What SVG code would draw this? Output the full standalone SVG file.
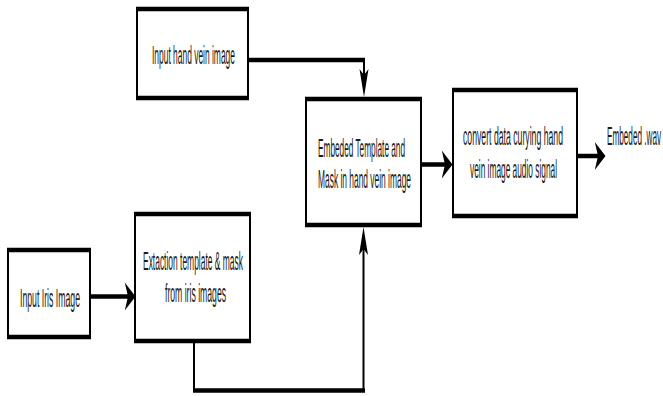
<svg xmlns="http://www.w3.org/2000/svg" width="663" height="396" viewBox="0 0 663 396">
<style>
.box{fill:#fff;stroke:#000;stroke-width:2}
.edge{stroke:#000;stroke-width:4.5;stroke-linecap:butt}
.lbl{font-family:"Liberation Sans","DejaVu Sans",sans-serif;font-size:25px;fill:#1a1a1a}
.thin{fill:none;stroke:#000;stroke-width:2}
.thick{fill:none;stroke:#000;stroke-width:4.5}
</style>
<defs>
<marker id="arrH" markerUnits="userSpaceOnUse" markerWidth="12" markerHeight="30" viewBox="0 -14 11 28" refX="3" refY="0" orient="auto" overflow="visible">
<path d="M0,-13 L10,0 L0,13 L3,0 Z" fill="#000"/>
</marker>
<marker id="arrV" markerUnits="userSpaceOnUse" markerWidth="30" markerHeight="10" viewBox="0 -5 29 10" refX="6" refY="0" orient="auto" overflow="visible">
<path d="M0,-4.5 L28,0 L0,4.5 L6,0 Z" fill="#000"/>
</marker>
</defs>
<g id="connectors">
<path class="thick" d="M249,60 H365"/>
<path class="thin" d="M364,60 V75" marker-end="url(#arrV)"/>
<path class="thick" d="M90,296.5 H128" marker-end="url(#arrH)"/>
<path class="thick" d="M421,164.5 H445" marker-end="url(#arrH)"/>
<path class="thick" d="M577,156 H598" marker-end="url(#arrH)"/>
<path class="thin" d="M194,341 V390"/>
<path class="thick" d="M193,390.5 H365"/>
<path class="thin" d="M363.5,391 V249" marker-end="url(#arrV)"/>
</g>
<g id="hand-vein">
<rect class="box" x="137" y="9" width="111" height="89"/>
<line class="edge" x1="136" y1="9" x2="249" y2="9"/>
<line class="edge" x1="136" y1="98" x2="249" y2="98"/>
<text class="lbl" transform="translate(152,64) scale(0.34,1)" textLength="244" lengthAdjust="spacingAndGlyphs">Input hand vein image</text>
</g>
<g id="embed">
<rect class="box" x="306" y="99" width="115" height="126"/>
<line class="edge" x1="305" y1="99" x2="422" y2="99"/>
<line class="edge" x1="305" y1="225" x2="422" y2="225"/>
<text class="lbl" transform="translate(318,157) scale(0.34,1)" textLength="256" lengthAdjust="spacingAndGlyphs">Embeded Template and</text>
<text class="lbl" transform="translate(318,188) scale(0.34,1)" textLength="273.5" lengthAdjust="spacingAndGlyphs">Mask in hand vein image</text>
</g>
<g id="convert">
<rect class="box" x="453" y="90" width="124" height="126"/>
<line class="edge" x1="452" y1="90" x2="578" y2="90"/>
<line class="edge" x1="452" y1="216" x2="578" y2="216"/>
<text class="lbl" transform="translate(463,145) scale(0.34,1)" textLength="294" lengthAdjust="spacingAndGlyphs">convert data curying hand</text>
<text class="lbl" transform="translate(470,178) scale(0.34,1)" textLength="256" lengthAdjust="spacingAndGlyphs">vein image audio signal</text>
</g>
<g id="iris">
<rect class="box" x="8" y="250" width="82" height="87"/>
<line class="edge" x1="7" y1="250" x2="91" y2="250"/>
<line class="edge" x1="7" y1="337" x2="91" y2="337"/>
<text class="lbl" transform="translate(20,307) scale(0.34,1)" textLength="176.5" lengthAdjust="spacingAndGlyphs">Input Iris Image</text>
</g>
<g id="extract">
<rect class="box" x="135" y="214" width="115" height="127"/>
<line class="edge" x1="134" y1="214" x2="251" y2="214"/>
<line class="edge" x1="134" y1="341" x2="251" y2="341"/>
<text class="lbl" transform="translate(143,270) scale(0.34,1)" textLength="294" lengthAdjust="spacingAndGlyphs">Extaction template &amp; mask</text>
<text class="lbl" transform="translate(165,302) scale(0.34,1)" textLength="179.5" lengthAdjust="spacingAndGlyphs">from iris images</text>
</g>
<g id="output">
<text class="lbl" transform="translate(607,145) scale(0.34,1)" textLength="159" lengthAdjust="spacingAndGlyphs">Embeded .wav</text>
</g>
</svg>
